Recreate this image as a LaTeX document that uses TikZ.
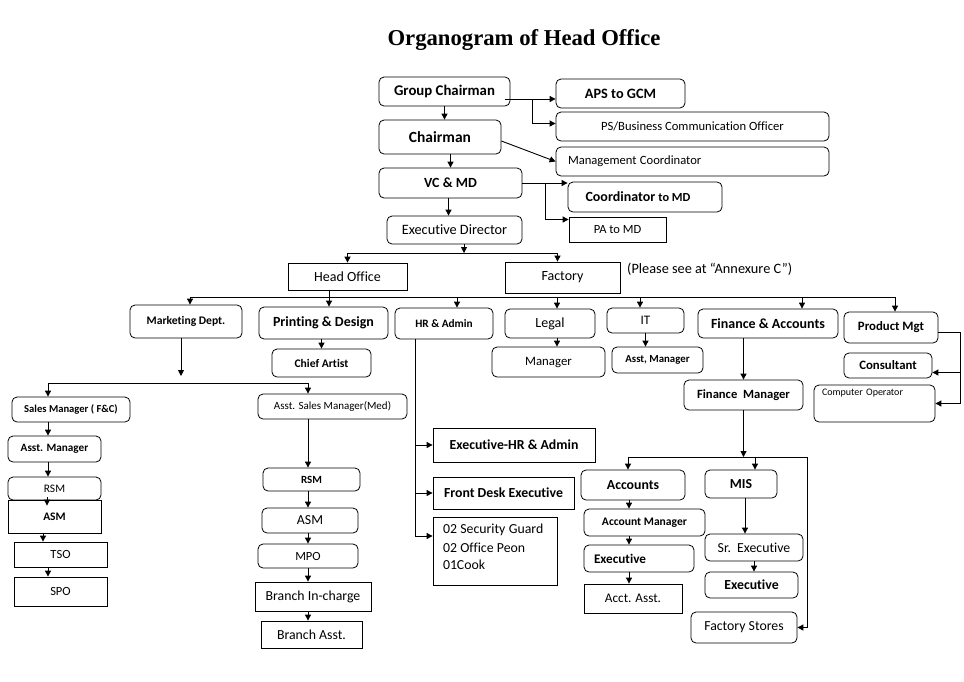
\documentclass[tikz,border=0pt]{standalone}
\usepackage{fontspec}
\setmainfont{Carlito}[Ligatures=NoCommon]
\newfontfamily\titlefont{Liberation Serif}
\usetikzlibrary{arrows.meta,calc}
\newcommand\fs[1]{\fontsize{#1}{#1}\selectfont}
\newcommand\bx[7]{\node[#6, minimum width={(#4-#2)*1pt}, minimum height={(#5-#3)*1pt}] (#1) at ({(#2+#4)/2}, {-(#3+#5)/2}) {#7};}
\tikzset{
  rbox/.style={draw, line width=0.8pt, rounded corners=5pt, inner sep=1pt, align=center},
  sbox/.style={draw, line width=0.8pt, inner sep=1pt, align=center},
  arr/.style={line width=0.9pt, -{Triangle[length=6pt,width=6pt]}},
  ln/.style={line width=0.9pt},
}
\begin{document}
\begin{tikzpicture}[x=1pt,y=1pt]
\useasboundingbox (0,0) rectangle (964,-681);
\node (title) at (524,-40) {\titlefont\bfseries\fs{22.7}Organogram of Head Office};
% top
\bx{gc}{379}{77}{510}{106}{rbox}{\fs{14.8}\bfseries Group Chairman}
\bx{aps}{556}{79}{685}{108}{rbox}{\fs{14.3}\bfseries APS to GCM}
\bx{ps}{556}{112}{829}{141}{rbox}{\fs{12.6}PS/Business Communication Officer}
\bx{ch}{379}{120}{501}{154}{rbox}{\fs{15.5}\bfseries Chairman}
\bx{mc}{556}{147}{829}{176}{rbox, text width=249pt, inner xsep=12pt, align=left}{\fs{12.6}Management Coordinator}
\bx{vc}{379}{168}{522}{198}{rbox}{\fs{14}\bfseries VC \& MD}
\bx{cmd}{568}{182}{722}{212}{rbox}{\bfseries\fs{14}Coordinator \fs{12.3}to MD\hspace{14pt}}
\bx{pa}{569}{217}{666}{242}{sbox}{\fs{12.5}PA to MD}
\bx{ed}{387}{216}{522}{244}{rbox}{\fs{14.3}Executive Director}
\bx{ho}{288}{263}{407}{290}{sbox}{\fs{14}Head Office}
\bx{fa}{505}{262}{620}{293}{sbox}{\fs{14}Factory}
\node[anchor=west, inner sep=0pt] (note) at (627,-269) {\fs{14.3}(Please see at “Annexure C”)};
% second level
\bx{mk}{130}{305}{242}{338}{rbox}{\fs{11.6}\bfseries Marketing Dept.}
\bx{pd}{259}{307}{388}{339}{rbox}{\fs{14}\bfseries Printing \& Design}
\bx{ca}{272}{349}{371}{377}{rbox}{\fs{11.6}\bfseries Chief Artist}
\bx{hr}{395}{308}{493}{339}{rbox}{\fs{11.3}\bfseries HR \& Admin}
\bx{lg}{505}{309}{595}{338}{rbox}{\fs{14}Legal}
\bx{lm}{492}{347}{605}{377}{rbox}{\fs{12.8}Manager}
\bx{it}{607}{308}{684}{333}{rbox}{\fs{13}IT}
\bx{am}{612}{347}{703}{373}{rbox}{\fs{10.8}\bfseries Asst, Manager}
\bx{fin}{698}{309}{838}{338}{rbox}{\fs{14}\bfseries Finance \& Accounts}
\bx{pm}{844}{312}{938}{343}{rbox}{\fs{12.8}\bfseries Product Mgt}
\bx{con}{844}{353}{932}{378}{rbox}{\fs{12.8}\bfseries Consultant}
\bx{co}{814}{385}{935}{422}{rbox, text width=105pt, inner xsep=8pt, align=left}{\fs{10}Computer Operator\\[10pt]\mbox{}}
\bx{fm}{684}{380}{803}{410}{rbox}{\fs{12.6}\bfseries Finance~~Manager}
% marketing
\bx{sm}{12}{397}{130}{422}{rbox}{\fs{10.6}\bfseries Sales Manager ( F\&C)}
\bx{asm1}{8}{436}{101}{462}{rbox}{\fs{11.2}\bfseries Asst. Manager}
\bx{rsm1}{8}{477}{101}{500}{rbox}{\fs{11.5}\raisebox{-4pt}{RSM}}
\bx{asm2}{8}{500}{101}{533}{sbox}{\fs{11.5}\bfseries ASM}
\bx{tso}{14}{542}{107}{567}{sbox}{\fs{12.5}TSO}
\bx{spo}{14}{577}{107}{606}{sbox}{\fs{12.5}SPO}
\bx{asmm}{258}{394}{407}{419}{rbox}{\fs{11}Asst. Sales Manager(Med)}
\bx{rsm2}{263}{468}{360}{491}{rbox}{\fs{11}\bfseries\raisebox{-3pt}{RSM}}
\bx{asmr}{262}{508}{358}{533}{rbox}{\fs{13.8}ASM}
\bx{mpo}{258}{544}{358}{568}{rbox}{\fs{12.5}MPO}
\bx{bic}{255}{582}{371}{611}{sbox}{\fs{13.8}Branch In-charge}
\bx{ba}{261}{621}{362}{648}{sbox}{\fs{13.8}Branch Asst.}
% HR
\bx{ehr}{433}{428}{595}{462}{sbox}{\fs{13.8}\bfseries Executive-HR \& Admin}
\bx{fde}{433}{477}{574}{509}{sbox}{\fs{13.8}\bfseries Front Desk Executive}
\bx{sec}{433}{517}{557}{585}{sbox, text width=104pt, inner xsep=10pt, align=left}{\fs{13.8}\setlength{\baselineskip}{17pt}\vspace*{2pt}02 Security Guard\\02 Office Peon\\01Cook\\[-4pt]\mbox{}}
% finance
\bx{acc}{581}{470}{685}{500}{rbox}{\fs{13.8}\bfseries Accounts}
\bx{mis}{705}{470}{777}{498}{rbox}{\fs{13.8}\bfseries MIS}
\bx{acm}{584}{509}{705}{536}{rbox}{\fs{11.6}\bfseries Account Manager}
\bx{exa}{584}{545}{694}{572}{rbox, text width=90pt, inner xsep=10pt, align=left}{\fs{13.2}\bfseries Executive}
\bx{aa}{584}{584}{682}{613}{sbox}{\fs{13.2}Acct. Asst.}
\bx{sre}{705}{534}{803}{561}{rbox}{\fs{13.8}Sr.~~Executive}
\bx{exb}{705}{572}{798}{598}{rbox}{\fs{13.8}\bfseries Executive}
\bx{fs}{691}{612}{797}{643}{rbox}{\fs{13.8}Factory Stores}
% ---------- connectors ----------
\draw[arr] (gc.south) -- (gc.south |- ch.north);
\draw[arr] (vc.north |- ch.south) -- (vc.north);
\draw[arr] ([xshift=-2pt]vc.south) -- ([xshift=-2pt]vc.south |- ed.north);
\coordinate (g1) at ([yshift=-7.5pt]gc.east);
\draw[arr] ([xshift=-5pt]g1) -- (g1 -| aps.west);
\coordinate (g2) at (532,-99);
\draw[arr] (g2) |- ([yshift=3pt]ps.west);
\draw[arr] ([yshift=-4pt]ch.east) -- (mc.west);
\draw[arr] (vc.east) -- (vc.east -| cmd.west);
\coordinate (v2) at (545,-183);
\draw[arr] (v2) |- ([yshift=10pt]pa.west);
% bus 1
\coordinate (bus1) at (0,-253);
\draw[arr] ([xshift=9.5pt]ed.south) -- ([xshift=9.5pt]ed.south |- bus1);
\draw[ln] (ho.north |- bus1) -- ([xshift=-5pt]fa.north |- bus1);
\draw[arr] (ho.north |- bus1) -- (ho.north);
\draw[arr] ([xshift=-5pt]fa.north |- bus1) -- ([xshift=-5pt]fa.north);
% bus 2
\coordinate (bus2) at (0,-297);
\draw[ln] ([xshift=-18pt]ho.south) -- ([xshift=-18pt]ho.south |- bus2);
\draw[ln] ([xshift=4pt]mk.north |- bus2) -- ([xshift=4pt]pm.north |- bus2);
\foreach \n/\s in {mk/4,pd/5.5,hr/13,lg/7,it/-5.5,fin/34,pm/4}
  \draw[arr] ([xshift=\s pt]\n.north |- bus2) -- ([xshift=\s pt]\n.north);
\draw[arr] (ca.north |- pd.south) -- (ca.north);
\draw[arr] ([xshift=7pt]lg.south) -- ([xshift=7pt]lg.south |- lm.north);
\draw[arr] (it.south) -- (it.south |- am.north);
\draw[arr] (fm.north |- fin.south) -- (fm.north);
\coordinate (pmr) at (960,0);
\draw[arr] ([yshift=-5pt]pm.east) -| (pmr |- co.east) -- (co.east);
\draw[arr] ([yshift=-7pt]con.east -| pmr) -- ([yshift=-7pt]con.east);
% marketing
\coordinate (mkend) at (181,-376);
\draw[arr] ([xshift=-5pt]mk.south) -- (mkend);
\coordinate (bus3) at (0,-383);
\coordinate (lc) at (48,0);
\coordinate (rc) at (308,0);
\draw[ln] (lc |- bus3) -- (rc |- bus3);
\draw[arr] (lc |- bus3) -- (lc |- sm.north);
\draw[arr] (rc |- bus3) -- (rc |- asmm.north);
\draw[arr] (lc |- sm.south) -- (lc |- asm1.north);
\draw[arr] (lc |- asm1.south) -- (lc |- rsm1.north);
\draw[arr] ([xshift=-1pt,yshift=3pt]lc |- rsm1.south) -- ([xshift=-1pt,yshift=-6pt]lc |- asm2.north);
\draw[arr] ([xshift=-5pt]lc |- asm2.south) -- ([xshift=-5pt]lc |- tso.north);
\draw[arr] (lc |- tso.south) -- (lc |- spo.north);
\draw[arr] (rc |- asmm.south) -- (rc |- rsm2.north);
\draw[arr] (rc |- rsm2.south) -- (rc |- asmr.north);
\draw[arr] (rc |- asmr.south) -- (rc |- mpo.north);
\draw[arr] (rc |- mpo.south) -- (rc |- bic.north);
\draw[arr] (rc |- bic.south) -- (rc |- ba.north);
% HR
\coordinate (hc) at (415,0);
\draw[ln] (hc |- hr.south) -- ([yshift=15pt]hc |- sec.west);
\draw[arr] (hc |- ehr.west) -- (ehr.west);
\draw[arr] (hc |- fde.west) -- (fde.west);
\draw[arr] ([yshift=15pt]hc |- sec.west) -- ([yshift=15pt]sec.west);
% finance
\coordinate (bus4) at (0,-457);
\coordinate (fbr) at (807,-457);
\draw[arr] (fm.south) -- (fm.south |- bus4);
\draw[ln] ([xshift=-5pt]acc.north |- bus4) -- (fbr);
\draw[arr] ([xshift=-5pt]acc.north |- bus4) -- ([xshift=-5pt]acc.north);
\draw[arr] ([xshift=14pt]mis.north |- bus4) -- ([xshift=14pt]mis.north);
\draw[arr] (fbr) |- (fs.east);
\coordinate (ac) at (629,0);
\draw[arr] (ac |- acc.south) -- (ac |- acm.north);
\draw[arr] (ac |- acm.south) -- (ac |- exa.north);
\draw[arr] (ac |- exa.south) -- (ac |- aa.north);
\draw[arr] ([xshift=4pt]mis.south) -- ([xshift=4pt]mis.south |- sre.north);
\draw[arr] (sre.south) -- (sre.south |- exb.north);
\end{tikzpicture}
\end{document}
